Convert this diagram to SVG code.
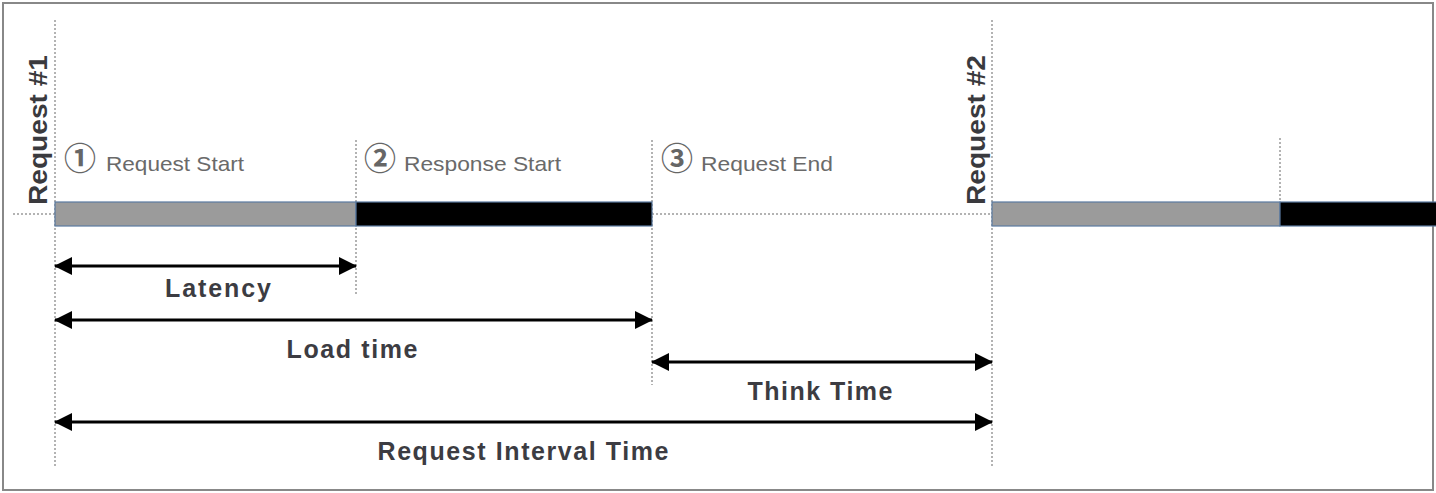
<svg xmlns="http://www.w3.org/2000/svg" width="1436" height="493" viewBox="0 0 1436 493">
<style>
.guide{stroke:#9a9a9a;stroke-width:1.5;stroke-dasharray:2 2;fill:none}
.bar-req{fill:#9b9b9b;stroke:#5a7aa0;stroke-width:1.2}
.bar-resp{fill:#000;stroke:#5a7aa0;stroke-width:1.2}
.arrow{stroke:#000;stroke-width:3;fill:none;marker-start:url(#ah);marker-end:url(#ah)}
.vlabel{font-family:"Liberation Sans",Arial,sans-serif;font-weight:bold;font-size:25px;fill:#3a3a3e}
.event{font-family:"Liberation Sans",Arial,sans-serif;font-size:21px;fill:#6a6a6a}
.num{font-family:"Noto Sans CJK SC","DejaVu Sans",sans-serif;font-weight:bold;font-size:32px;fill:#666}
.dim{font-family:"Liberation Sans",Arial,sans-serif;font-weight:bold;font-size:25px;fill:#3c3c42;text-anchor:middle}
</style>
<defs>
<marker id="ah" viewBox="0 0 18 18" refX="17" refY="9" markerWidth="18" markerHeight="18" markerUnits="userSpaceOnUse" orient="auto-start-reverse">
<path d="M0,0 L18,9 L0,18 Z" fill="#000"/>
</marker>
</defs>
<rect x="3" y="3" width="1430" height="487" fill="#fff" stroke="#888" stroke-width="2"/>
<g id="guides">
<line class="guide" x1="55" y1="20" x2="55" y2="468"/>
<line class="guide" x1="356" y1="140" x2="356" y2="295"/>
<line class="guide" x1="652" y1="140" x2="652" y2="385"/>
<line class="guide" x1="992" y1="20" x2="992" y2="468"/>
<line class="guide" x1="1280" y1="138" x2="1280" y2="202"/>
<line class="guide" x1="13" y1="214" x2="55" y2="214"/>
<line class="guide" x1="652" y1="214" x2="992" y2="214"/>
</g>
<g id="request1">
<text class="vlabel" transform="translate(47,205) rotate(-90)" textLength="150" lengthAdjust="spacingAndGlyphs">Request #1</text>
<rect class="bar-req" x="55" y="202" width="301" height="24"/>
<rect class="bar-resp" x="356" y="202" width="296" height="24"/>
</g>
<g id="request2">
<text class="vlabel" transform="translate(985,205) rotate(-90)" textLength="150" lengthAdjust="spacingAndGlyphs">Request #2</text>
<rect class="bar-req" x="992" y="202" width="288" height="24"/>
<rect class="bar-resp" x="1280" y="202" width="160" height="24"/>
</g>
<g id="event-request-start">
<text class="num" x="64" y="170">①</text>
<text class="event" x="106" y="171" textLength="138" lengthAdjust="spacingAndGlyphs">Request Start</text>
</g>
<g id="event-response-start">
<text class="num" x="364" y="170">②</text>
<text class="event" x="404" y="171" textLength="157" lengthAdjust="spacingAndGlyphs">Response Start</text>
</g>
<g id="event-request-end">
<text class="num" x="661" y="170">③</text>
<text class="event" x="701" y="171" textLength="132" lengthAdjust="spacingAndGlyphs">Request End</text>
</g>
<g id="connectors">
<line class="arrow" x1="55" y1="266" x2="356" y2="266"/>
<line class="arrow" x1="55" y1="320" x2="652" y2="320"/>
<line class="arrow" x1="652" y1="362" x2="992" y2="362"/>
<line class="arrow" x1="55" y1="422" x2="992" y2="422"/>
</g>
<g id="labels">
<text class="dim" x="218" y="297" textLength="106" lengthAdjust="spacing">Latency</text>
<text class="dim" x="352" y="358" textLength="131" lengthAdjust="spacing">Load time</text>
<text class="dim" x="820" y="400" textLength="145" lengthAdjust="spacing">Think Time</text>
<text class="dim" x="523" y="460" textLength="291" lengthAdjust="spacing">Request Interval Time</text>
</g>
</svg>
